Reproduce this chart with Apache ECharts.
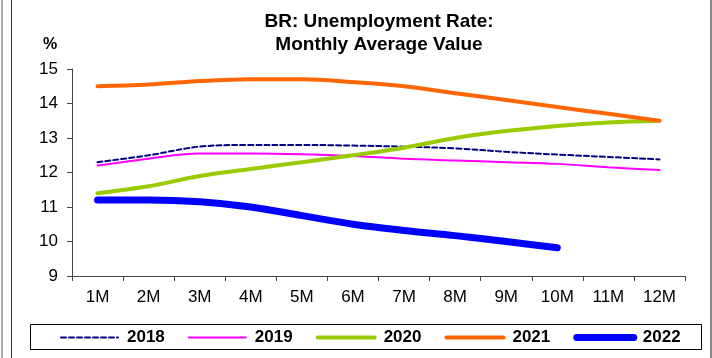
<!DOCTYPE html>
<html>
<head>
<meta charset="utf-8">
<script src="https://cdn.jsdelivr.net/npm/echarts@6/dist/echarts.min.js"></script>
<style>
  html, body { margin: 0; padding: 0; background: #fff; }
  #chart { width: 712px; height: 358px; }
</style>
</head>
<body>
<div id="chart"></div>
<script>
// Months of the year
const months = ['1M', '2M', '3M', '4M', '5M', '6M', '7M', '8M', '9M', '10M', '11M', '12M'];

// Monthly average unemployment rate (%) by year
const rate2018 = [12.3, 12.5, 12.75, 12.8, 12.8, 12.78, 12.75, 12.7, 12.6, 12.52, 12.45, 12.38];
const rate2019 = [12.2, 12.4, 12.55, 12.55, 12.53, 12.48, 12.4, 12.35, 12.3, 12.25, 12.15, 12.07];
const rate2020 = [11.4, 11.6, 11.9, 12.1, 12.3, 12.5, 12.72, 13.0, 13.2, 13.35, 13.45, 13.5];
const rate2021 = [14.5, 14.55, 14.65, 14.7, 14.7, 14.62, 14.5, 14.3, 14.1, 13.9, 13.7, 13.5];
const rate2022 = [11.2, 11.2, 11.15, 11.0, 10.75, 10.5, 10.32, 10.17, 10.0, 9.82];

const font = '"Liberation Sans", Arial, sans-serif';
const chart = echarts.init(document.getElementById('chart'), null, { renderer: 'canvas' });

const styles = {
  '2018': { color: '#000080', width: 2, type: [5, 3] },
  '2019': { color: '#FF00FF', width: 2, type: 'solid' },
  '2020': { color: '#99CC00', width: 4, type: 'solid' },
  '2021': { color: '#FF6600', width: 4, type: 'solid' },
  '2022': { color: '#0000FF', width: 7, type: 'solid' }
};

function line(name, data) {
  const s = styles[name];
  return {
    name: name,
    type: 'line',
    data: data,
    smooth: 0.35,
    symbol: 'none',
    lineStyle: { color: s.color, width: s.width, type: s.type, cap: 'round' },
    itemStyle: { color: s.color },
    emphasis: { disabled: true },
    animation: false
  };
}

chart.setOption({
  animation: false,
  title: {
    text: 'BR: Unemployment Rate:\nMonthly Average Value',
    left: 374,
    top: 5,
    textAlign: 'center',
    textStyle: { fontFamily: font, fontWeight: 'bold', fontSize: 19, lineHeight: 23, color: '#000' }
  },
  grid: { left: 72, right: 27, top: 69, bottom: 82, containLabel: false },
  xAxis: {
    type: 'category',
    data: months,
    boundaryGap: true,
    axisLine: { lineStyle: { color: '#444', width: 1 } },
    axisTick: { show: true, alignWithLabel: false, length: 5, lineStyle: { color: '#444' } },
    axisLabel: { fontFamily: font, fontSize: 17, color: '#000', margin: 13, interval: 0 }
  },
  yAxis: {
    type: 'value',
    min: 9,
    max: 15,
    interval: 1,
    splitLine: { show: false },
    axisLine: { show: true, lineStyle: { color: '#444', width: 1 } },
    axisTick: { show: true, length: 5, lineStyle: { color: '#444' } },
    axisLabel: { fontFamily: font, fontSize: 17, color: '#000', margin: 14 }
  },
  legend: {
    left: 55,
    top: 324,
    itemWidth: 57,
    itemHeight: 2,
    itemGap: 23,
    itemStyle: { opacity: 0 },
    textStyle: { fontFamily: font, fontWeight: 'bold', fontSize: 17, color: '#000', padding: [0, 0, 0, 4] },
    selectedMode: false,
    data: ['2018', '2019', '2020', '2021', '2022'].map(function (n) {
      return { name: n, lineStyle: { width: styles[n].width, type: styles[n].type, color: styles[n].color, cap: 'round' } };
    })
  },
  graphic: [
    { type: 'text', left: 43, top: 37, style: { text: '%', font: 'bold 16px ' + font, fill: '#000' } },
    { type: 'rect', shape: { x: 30.5, y: 324.5, width: 671, height: 25 }, style: { fill: 'none', stroke: '#000', lineWidth: 1 } },
    { type: 'line', shape: { x1: 2, y1: 0, x2: 2, y2: 358 }, style: { stroke: '#aaa', lineWidth: 2 } },
    { type: 'line', shape: { x1: 11.5, y1: 0, x2: 11.5, y2: 358 }, style: { stroke: '#333', lineWidth: 1 } },
    { type: 'line', shape: { x1: 711, y1: 0, x2: 711, y2: 358 }, style: { stroke: '#888', lineWidth: 2 } }
  ],
  series: [
    line('2018', rate2018),
    line('2019', rate2019),
    line('2020', rate2020),
    line('2021', rate2021),
    line('2022', rate2022)
  ]
});
</script>
</body>
</html>
